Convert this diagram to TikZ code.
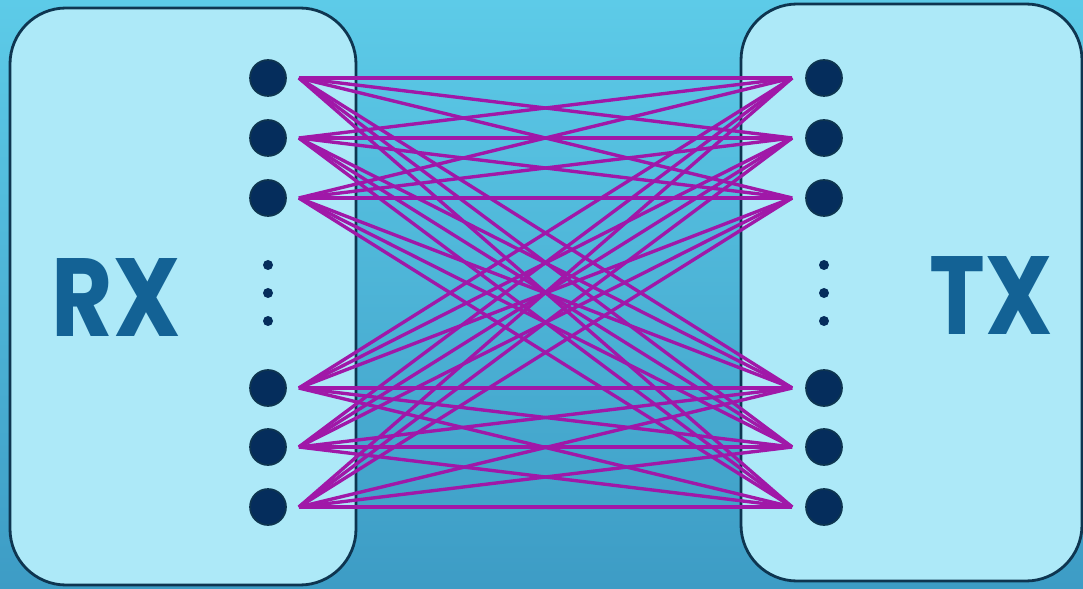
\documentclass[tikz,border=0pt]{standalone}
\usepackage{fontspec}
\newfontfamily\boxfont{Poppins}[FakeStretch=0.85]
\usepackage{xcolor}
\definecolor{skyTop}{HTML}{5DCBE8}
\definecolor{skyBot}{HTML}{3D9CC5}
\definecolor{boxFill}{HTML}{ADE9F8}
\definecolor{boxEdge}{HTML}{0E3550}
\definecolor{dotBlue}{HTML}{052D5C}
\definecolor{labelBlue}{HTML}{136295}
\definecolor{linkPurple}{HTML}{A018A8}
\usetikzlibrary{calc}

\tikzset{
  port/.style={circle, fill=dotBlue, draw=boxEdge, line width=1.2pt, minimum size=0.9cm, inner sep=0pt},
  gapdot/.style={circle, fill=dotBlue, minimum size=0.25cm, inner sep=0pt},
  unit/.style={fill=boxFill, draw=boxEdge, line width=2pt, rounded corners=1.4cm},
  link/.style={linkPurple, line width=2.4pt},
  tag/.style={font=\boxfont\bfseries\fontsize{79}{79}\selectfont, text=labelBlue, inner sep=0pt}
}

\begin{document}
\begin{tikzpicture}[x=0.025cm, y=-0.025cm]
  \useasboundingbox (0,0) rectangle (1083,589);
  % background
  \shade[top color=skyTop, bottom color=skyBot] (0,0) rectangle (1083,589);
  % the two units
  \draw[unit] (10,8) rectangle (356,585);
  \draw[unit] (741,4) rectangle (1082,581);
  \node[tag] (rxlabel) at (116,298) {RX};
  \node[tag] (txlabel) at (991,296) {TX};
  % antenna ports
  \foreach \i/\y in {1/78,2/138,3/198,4/388,5/447,6/507} {
    \node[port] (rx\i) at (268,\y) {};
    \node[port] (tx\i) at (824,\y) {};
    \coordinate (rxp\i) at ($(rx\i.east)+(12,0)$);
    \coordinate (txp\i) at ($(tx\i.west)+(-13,0)$);
  }
  % vertical dots
  \foreach \y [count=\k] in {265,293,321} {
    \node[gapdot] (rxdot\k) at (268,\y) {};
    \node[gapdot] (txdot\k) at (824,\y) {};
  }
  % every port to every port
  \foreach \i in {1,...,6}
    \foreach \j in {1,...,6}
      \draw[link] (rxp\i) -- (txp\j);
\end{tikzpicture}
\end{document}
